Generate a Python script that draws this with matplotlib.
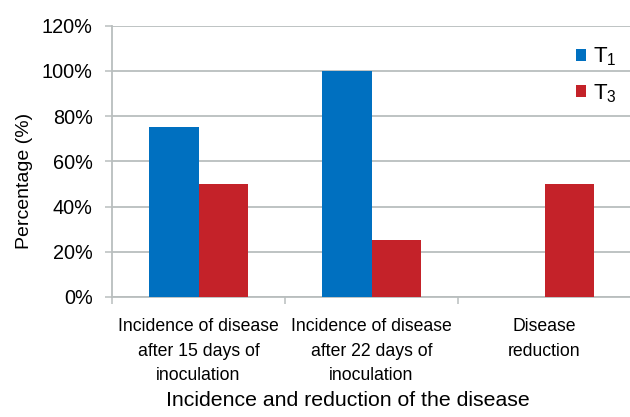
import matplotlib
matplotlib.use("Agg")
import matplotlib.pyplot as plt
import numpy as np

categories = ["Incidence of disease\nafter 15 days of\ninoculation",
              "Incidence of disease\nafter 22 days of\ninoculation",
              "Disease\nreduction"]
t1_values = [75, 100, 0]
t3_values = [50, 25, 50]
series_labels = [r"T$_\mathregular{1}$", r"T$_\mathregular{3}$"]
y_ticks = [0, 20, 40, 60, 80, 100, 120]
y_tick_labels = ["0%", "20%", "40%", "60%", "80%", "100%", "120%"]

plt.rcParams['font.family'] = ['Liberation Sans', 'DejaVu Sans']
plt.rcParams['mathtext.fontset'] = 'custom'
plt.rcParams['mathtext.rm'] = 'Liberation Sans'

blue = '#0070C0'
red = '#C42229'
grid_c = '#B9BEBE'

fig = plt.figure(figsize=(6.3, 4.17), dpi=100)
ax = fig.add_axes([112/630, 120/417, 519/630, 271.3/417])

x = np.arange(len(categories))
w = 0.289
ax.bar(x - w/2, t1_values, w, color=blue, label=series_labels[0], zorder=3)
ax.bar(x + w/2, t3_values, w, color=red, label=series_labels[1], zorder=3)

ax.set_xlim(-0.5, 2.5)
ax.set_ylim(0, 120)
ax.set_yticks(y_ticks)
ax.set_yticklabels(y_tick_labels, fontsize=14.3)
ax.yaxis.grid(True, color=grid_c, linewidth=1.3, zorder=0)
ax.set_axisbelow(True)

for s in ['top', 'right']:
    ax.spines[s].set_visible(False)
ax.spines['left'].set_color(grid_c)
ax.spines['bottom'].set_color(grid_c)
ax.spines['left'].set_linewidth(1.3)
ax.spines['bottom'].set_linewidth(1.3)

ax.tick_params(axis='y', length=5, width=1.1, color=grid_c, pad=9)
ax.set_xticks(x)
ax.set_xticklabels(categories, fontsize=12.7, linespacing=1.6)
ax.tick_params(axis='x', which='major', length=0, pad=15)
ax.set_xticks([-0.5, 0.5, 1.5], minor=True)
ax.tick_params(axis='x', which='minor', length=5, width=1.1, color=grid_c)

ax.set_ylabel("Percentage (%)", fontsize=14, labelpad=6)
ax.yaxis.label.set_y(0.4276)
ax.set_xlabel("Incidence and reduction of the disease", fontsize=15.3, labelpad=5)
ax.xaxis.label.set_x(0.4537)

leg = ax.legend(loc='upper right', bbox_to_anchor=(1.012, 1.0), frameon=False,
                fontsize=16, handlelength=0.45, handleheight=0.45,
                handletextpad=0.35, labelspacing=0.62)

fig.savefig("out.png", dpi=100)
